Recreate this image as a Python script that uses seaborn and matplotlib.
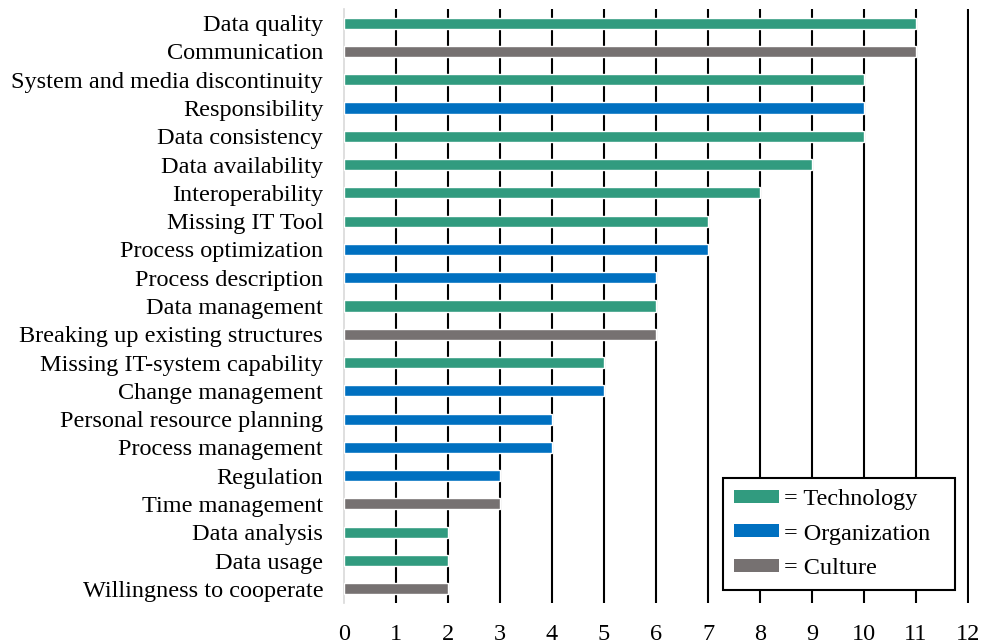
import matplotlib
matplotlib.use("Agg")
import matplotlib.pyplot as plt
import seaborn as sns
import pandas as pd
from matplotlib.patches import Patch

categories = ["Data quality", "Communication", "System and media discontinuity", "Responsibility",
              "Data consistency", "Data availability", "Interoperability", "Missing IT Tool",
              "Process optimization", "Process description", "Data management",
              "Breaking up existing structures", "Missing IT-system capability", "Change management",
              "Personal resource planning", "Process management", "Regulation", "Time management",
              "Data analysis", "Data usage", "Willingness to cooperate"]
values = [11, 11, 10, 10, 10, 9, 8, 7, 7, 6, 6, 6, 5, 5, 4, 4, 3, 3, 2, 2, 2]
groups = ["Technology", "Culture", "Technology", "Organization", "Technology", "Technology",
          "Technology", "Technology", "Organization", "Organization", "Technology", "Culture",
          "Technology", "Organization", "Organization", "Organization", "Organization", "Culture",
          "Technology", "Technology", "Culture"]
group_order = ["Technology", "Organization", "Culture"]
palette = {"Technology": "#319B7F", "Organization": "#0070C0", "Culture": "#767171"}
x_ticks = list(range(0, 13))

df = pd.DataFrame({"category": categories, "value": values, "group": groups})

sns.set_theme(style="white")
plt.rcParams["font.family"] = ["Liberation Serif", "DejaVu Serif"]
plt.rcParams["text.color"] = "black"

fig = plt.figure(figsize=(9.83, 6.44), dpi=100)
ax = fig.add_axes([0.35, 0.0637, 0.6358, 0.9223])
ax.set_axisbelow(True)

for t in x_ticks[1:]:
    ax.axvline(t, color="black", lw=1.5, zorder=0.2)

sns.barplot(data=df, x="value", y="category", hue="group", order=categories,
            hue_order=group_order, palette=palette, dodge=False, width=0.39,
            orient="h", ax=ax, legend=False, saturation=1)
for p in ax.patches:
    p.set_zorder(3)

ax.set_xlim(0, 12.02)
ax.set_ylim(20.5, -0.5)
ax.set_xticks(x_ticks)
ax.set_xticklabels([str(t) for t in x_ticks], fontsize=17.5)
ax.tick_params(axis="y", labelsize=17.5, length=0, pad=15)
ax.tick_params(axis="x", length=0, pad=15)
ax.set_xlabel("")
ax.set_ylabel("")
for s in ["top", "right", "bottom"]:
    ax.spines[s].set_visible(False)
ax.spines["left"].set_color("#D9D9D9")
ax.spines["left"].set_linewidth(1.2)
for lbl in ax.get_yticklabels():
    lbl.set_color("black")
for lbl in ax.get_xticklabels():
    lbl.set_color("black")

handles = [Patch(facecolor=palette[g], edgecolor="none") for g in group_order]
labels = ["= " + g for g in group_order]
leg = ax.legend(handles, labels, loc="lower left", bbox_to_anchor=(0.6064, 0.022, 0.371, 0.2),
                mode="expand", borderaxespad=0, fontsize=17.5, frameon=True, fancybox=False,
                edgecolor="black", handlelength=1.85, handleheight=0.45,
                handletextpad=0.2, labelspacing=0.55, borderpad=0.45, framealpha=1)
leg.get_frame().set_linewidth(1.5)
leg.set_zorder(5)
for txt in leg.get_texts():
    txt.set_color("black")

fig.savefig("out.png", dpi=100)
